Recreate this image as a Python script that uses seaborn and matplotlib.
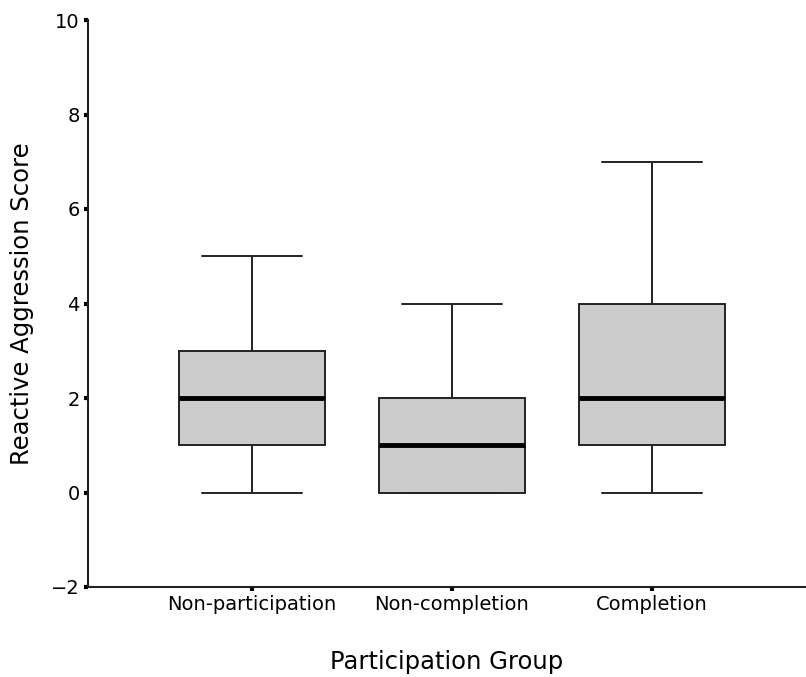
import matplotlib
matplotlib.use("Agg")
import matplotlib.pyplot as plt
import numpy as np
import pandas as pd
import seaborn as sns

# five-number summary per group (min, Q1, median, Q3, max)
groups = ["Non-participation", "Non-completion", "Completion"]
non_participation = [0, 1, 2, 3, 5]
non_completion = [0, 0, 1, 2, 4]
completion = [0, 1, 2, 4, 7]

df = pd.DataFrame({
    "group": [groups[0]] * 5 + [groups[1]] * 5 + [groups[2]] * 5,
    "score": non_participation + non_completion + completion,
})

sns.set_style("white")
plt.rcParams["font.family"] = ["DejaVu Sans"]

fig = plt.figure(figsize=(8.06, 6.77), dpi=100)
ax = fig.add_axes([88 / 806, 90 / 677, 1 - 88 / 806, (587 - 20) / 677])

sns.boxplot(data=df, x="group", y="score", order=groups, ax=ax,
            width=0.73, color="#cccccc", whis=1.5, showfliers=False,
            linecolor="#222222", linewidth=1.4,
            medianprops={"color": "black", "linewidth": 3.5},
            boxprops={"facecolor": "#cccccc", "edgecolor": "#222222"})

# wider whisker caps, like the original
for ln in ax.lines:
    xd = np.asarray(ln.get_xdata(), dtype=float)
    yd = np.asarray(ln.get_ydata(), dtype=float)
    if len(xd) == 2 and yd[0] == yd[1]:
        # skip medians (they span the whole box)
        if abs(xd[1] - xd[0]) < 0.6 * 0.73:
            c = xd.mean()
            ln.set_xdata([c - 0.25, c + 0.25])

ax.set_xlim(-0.82, 2.77)
ax.set_ylim(-2, 10)
ax.set_yticks([-2, 0, 2, 4, 6, 8, 10])
ax.set_yticklabels(["\u22122", "0", "2", "4", "6", "8", "10"])

sns.despine(ax=ax)
for s in ["left", "bottom"]:
    ax.spines[s].set_color("#222222")
    ax.spines[s].set_linewidth(1.5)

ax.tick_params(axis="both", direction="out", length=3, width=3, colors="black",
               labelsize=14, pad=3, left=True, bottom=True)
ax.set_xlabel("Participation Group", fontsize=17.5, labelpad=26, color="black")
ax.set_ylabel("Reactive Aggression Score", fontsize=17.5, labelpad=12, color="black")

fig.savefig("out.png", dpi=100)
